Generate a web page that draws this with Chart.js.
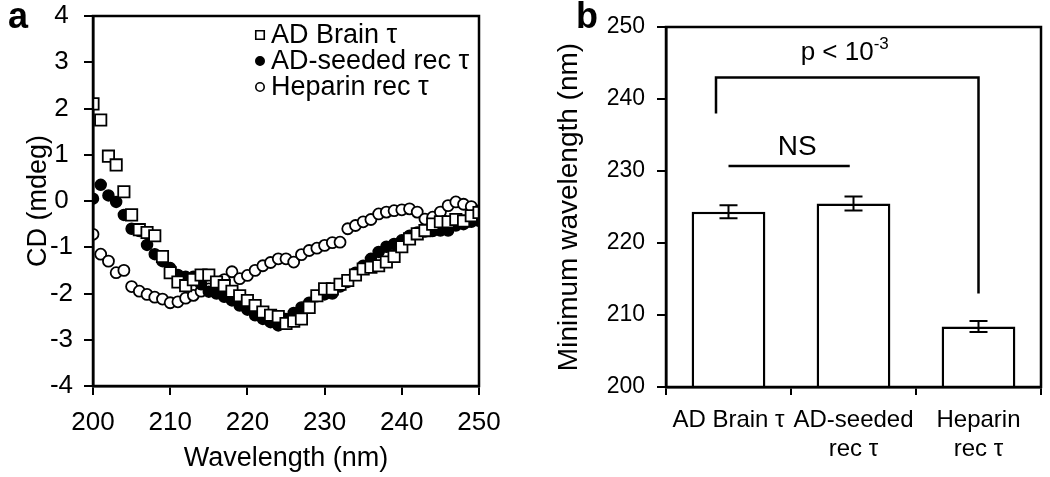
<!DOCTYPE html>
<html>
<head>
<meta charset="utf-8">
<script src="https://cdn.jsdelivr.net/npm/chart.js@4.4.1/dist/chart.umd.min.js"></script>
<style>
  html, body { margin: 0; padding: 0; background: #fff; }
  #wrap { position: relative; width: 1050px; height: 477px; overflow: hidden; }
  #cd { position: absolute; left: 0; top: 0; }
  #minwl { position: absolute; left: 540px; top: 0; }
</style>
</head>
<body>
<div id="wrap">
  <canvas id="cd" width="520" height="477"></canvas>
  <canvas id="minwl" width="510" height="477"></canvas>
</div>
<script>
// panel a: CD spectra, one value per nm
const wavelengths = [200, 201, 202, 203, 204, 205, 206, 207, 208, 209,
  210, 211, 212, 213, 214, 215, 216, 217, 218, 219,
  220, 221, 222, 223, 224, 225, 226, 227, 228, 229,
  230, 231, 232, 233, 234, 235, 236, 237, 238, 239,
  240, 241, 242, 243, 244, 245, 246, 247, 248, 249, 250];

const adBrain = [2.1, 1.75, 0.97, 0.78, 0.2, -0.3, -0.62, -0.68, -0.75, -1.2,
  -1.55, -1.75, -1.83, -1.7, -1.6, -1.6, -1.75, -1.83, -1.95, -2.05,
  -2.15, -2.26, -2.4, -2.47, -2.5, -2.65, -2.6, -2.55, -2.3, -2.05,
  -1.9, -1.9, -1.8, -1.72, -1.6, -1.47, -1.43, -1.4, -1.32, -1.2,
  -0.99, -0.82, -0.71, -0.64, -0.5, -0.45, -0.45, -0.4, -0.43, -0.32, -0.25];

const adSeeded = [0.05, 0.35, 0.12, -0.02, -0.3, -0.6, -0.65, -0.95, -1.15, -1.3,
  -1.45, -1.6, -1.64, -1.64, -1.8, -1.96, -2.0, -2.07, -2.15, -2.26,
  -2.35, -2.47, -2.55, -2.62, -2.69, -2.55, -2.42, -2.3, -2.2, -2.06,
  -2.02, -2.0, -1.85, -1.75, -1.55, -1.4, -1.25, -1.1, -0.99, -0.93,
  -0.85, -0.75, -0.68, -0.66, -0.65, -0.64, -0.64, -0.53, -0.5, -0.45, -0.43];

const heparin = [-0.72, -1.15, -1.3, -1.55, -1.5, -1.85, -1.95, -2.02, -2.08, -2.12,
  -2.2, -2.18, -2.1, -2.04, -1.95, -1.9, -1.8, -1.7, -1.53, -1.68,
  -1.61, -1.5, -1.4, -1.33, -1.25, -1.25, -1.32, -1.16, -1.07, -1.02,
  -0.96, -0.9, -0.89, -0.6, -0.53, -0.45, -0.4, -0.28, -0.24, -0.21,
  -0.19, -0.17, -0.24, -0.39, -0.35, -0.24, -0.1, -0.02, -0.07, -0.12, -0.21];

const legendNames = ['AD Brain \u03c4', 'AD-seeded rec \u03c4', 'Heparin rec \u03c4'];

// panel b: minimum wavelength per sample
const samples = ['AD Brain \u03c4', ['AD-seeded', 'rec \u03c4'], ['Heparin', 'rec \u03c4']];
const minWavelength = [224.35, 225.5, 208.4];
const minWavelengthErr = [0.9, 0.97, 0.76];

const FONT = '"Liberation Sans", Arial, sans-serif';
const INK = '#000';

function pts(ys) {
  return wavelengths.map((x, i) => ({ x: x, y: ys[i] }));
}

function frame(chart) {
  const a = chart.chartArea, ctx = chart.ctx;
  ctx.save();
  ctx.strokeStyle = INK;
  ctx.lineWidth = 2.5;
  ctx.strokeRect(a.left, a.top, a.right - a.left, a.bottom - a.top);
  ctx.restore();
}

// keep chart area fixed: no extra room for half-labels at the ends
function noEdgePad(s) {
  s.paddingTop = 0; s.paddingBottom = 0;
  s.paddingLeft = 0; s.paddingRight = 0;
}

const cdPlugin = {
  id: 'cdExtras',
  afterDraw(chart) {
    frame(chart);
    const ctx = chart.ctx;
    ctx.save();
    ctx.fillStyle = INK;
    ctx.font = 'bold 36px ' + FONT;
    ctx.textBaseline = 'alphabetic';
    ctx.fillText('a', 8, 28);

    // legend, top right inside the plot
    ctx.textBaseline = 'middle';
    ctx.font = '27px ' + FONT;
    chart.data.datasets.forEach((ds, i) => {
      const y = 35 + i * 26;
      ctx.strokeStyle = INK;
      ctx.fillStyle = ds.backgroundColor;
      ctx.lineWidth = 1.6;
      Chart.helpers.drawPoint(ctx, {
        pointStyle: ds.pointStyle,
        radius: ds.pointStyle === 'rect' ? 6 : 4.2,
        borderWidth: 1.6
      }, 260, y);
      ctx.fillStyle = INK;
      ctx.fillText(legendNames[i], 271, y + 1);
    });
    ctx.restore();
  }
};

new Chart(document.getElementById('cd'), {
  type: 'scatter',
  data: {
    datasets: [
      { label: legendNames[0], data: pts(adBrain), pointStyle: 'rect', pointRadius: 8,
        backgroundColor: '#fff', borderColor: INK, borderWidth: 1.8 },
      { label: legendNames[1], data: pts(adSeeded), pointStyle: 'circle', pointRadius: 5.5,
        backgroundColor: INK, borderColor: INK, borderWidth: 1.5 },
      { label: legendNames[2], data: pts(heparin), pointStyle: 'circle', pointRadius: 5.5,
        backgroundColor: '#fff', borderColor: INK, borderWidth: 1.8 }
    ]
  },
  options: {
    responsive: false,
    animation: false,
    events: [],
    layout: { padding: { left: 22, top: 16, right: 41, bottom: 2 } },
    plugins: { legend: { display: false }, tooltip: { enabled: false } },
    scales: {
      x: {
        type: 'linear', min: 200, max: 250,
        ticks: { stepSize: 10, color: INK, font: { family: FONT, size: 26 }, padding: 12 },
        grid: { display: true, drawOnChartArea: false, drawTicks: true, tickLength: 9, color: INK, lineWidth: 2 },
        border: { display: true, color: INK, width: 2.5 },
        title: { display: true, text: 'Wavelength (nm)', color: INK, font: { family: FONT, size: 27 }, padding: 0 },
        afterFit(s) { s.height = 89; noEdgePad(s); }
      },
      y: {
        min: -4, max: 4,
        ticks: { stepSize: 1, color: INK, font: { family: FONT, size: 26 }, padding: 11, crossAlign: 'center' },
        grid: { display: true, drawOnChartArea: false, drawTicks: true, tickLength: 9, color: INK, lineWidth: 2 },
        border: { display: true, color: INK, width: 2.5 },
        title: { display: true, text: 'CD (mdeg)', color: INK, font: { family: FONT, size: 27 }, padding: 0 },
        afterFit(s) { s.width = 71; noEdgePad(s); }
      }
    }
  },
  plugins: [cdPlugin]
});

const wlPlugin = {
  id: 'wlExtras',
  afterDatasetsDraw(chart) {
    const ctx = chart.ctx;
    const xs = chart.scales.x, ys = chart.scales.y;
    ctx.save();
    ctx.strokeStyle = INK;
    ctx.lineWidth = 2;
    // error bars
    minWavelength.forEach((v, i) => {
      const x = xs.getPixelForValue(i);
      const t = ys.getPixelForValue(v + minWavelengthErr[i]);
      const b = ys.getPixelForValue(v - minWavelengthErr[i]);
      ctx.beginPath();
      ctx.moveTo(x, t); ctx.lineTo(x, b);
      ctx.moveTo(x - 9, t); ctx.lineTo(x + 9, t);
      ctx.moveTo(x - 9, b); ctx.lineTo(x + 9, b);
      ctx.stroke();
    });
    // significance brackets
    ctx.lineWidth = 2.5;
    ctx.beginPath();
    ctx.moveTo(xs.getPixelForValue(-0.1), ys.getPixelForValue(238));
    ctx.lineTo(xs.getPixelForValue(-0.1), ys.getPixelForValue(243));
    ctx.lineTo(xs.getPixelForValue(2.0), ys.getPixelForValue(243));
    ctx.lineTo(xs.getPixelForValue(2.0), ys.getPixelForValue(213));
    ctx.moveTo(xs.getPixelForValue(0.0), ys.getPixelForValue(230.7));
    ctx.lineTo(xs.getPixelForValue(0.97), ys.getPixelForValue(230.7));
    ctx.stroke();

    ctx.fillStyle = INK;
    ctx.textBaseline = 'middle';
    ctx.textAlign = 'center';
    ctx.font = '28px ' + FONT;
    ctx.fillText('NS', xs.getPixelForValue(0.55), ys.getPixelForValue(233.3));

    const main = 'p < 10';
    ctx.font = '26px ' + FONT;
    const w1 = ctx.measureText(main).width;
    ctx.font = '17px ' + FONT;
    const w2 = ctx.measureText('-3').width;
    const cx = xs.getPixelForValue(0.93), cy = ys.getPixelForValue(246.4);
    ctx.textAlign = 'left';
    ctx.font = '26px ' + FONT;
    ctx.fillText(main, cx - (w1 + w2) / 2, cy);
    ctx.font = '17px ' + FONT;
    ctx.fillText('-3', cx - (w1 + w2) / 2 + w1, cy - 9);
    ctx.restore();
  },
  afterDraw(chart) {
    frame(chart);
    const ctx = chart.ctx;
    ctx.save();
    ctx.fillStyle = INK;
    ctx.font = 'bold 36px ' + FONT;
    ctx.textBaseline = 'alphabetic';
    ctx.fillText('b', 36, 28);
    ctx.restore();
  }
};

new Chart(document.getElementById('minwl'), {
  type: 'bar',
  data: {
    labels: samples,
    datasets: [{
      data: minWavelength,
      backgroundColor: '#fff',
      borderColor: INK,
      borderWidth: 2.5,
      borderSkipped: 'bottom',
      categoryPercentage: 1,
      barPercentage: 0.59
    }]
  },
  options: {
    responsive: false,
    animation: false,
    events: [],
    layout: { padding: { left: 12, top: 27, right: 9, bottom: 0 } },
    plugins: { legend: { display: false }, tooltip: { enabled: false } },
    scales: {
      x: {
        ticks: { color: INK, font: { family: FONT, size: 24, lineHeight: 1.2 }, padding: 11, maxRotation: 0 },
        grid: { display: true, offset: true, drawOnChartArea: false, drawTicks: true, tickLength: 8, color: INK, lineWidth: 2 },
        border: { display: true, color: INK, width: 2.5 },
        afterFit(s) { s.height = 90; noEdgePad(s); }
      },
      y: {
        min: 200, max: 250,
        ticks: { stepSize: 10, color: INK, font: { family: FONT, size: 23 }, padding: 12 },
        grid: { display: true, drawOnChartArea: false, drawTicks: true, tickLength: 9, color: INK, lineWidth: 2 },
        border: { display: true, color: INK, width: 2.5 },
        title: { display: true, text: 'Minimum wavelength (nm)', color: INK, font: { family: FONT, size: 28 }, padding: 0 },
        afterFit(s) { s.width = 114; noEdgePad(s); }
      }
    }
  },
  plugins: [wlPlugin]
});
</script>
</body>
</html>
